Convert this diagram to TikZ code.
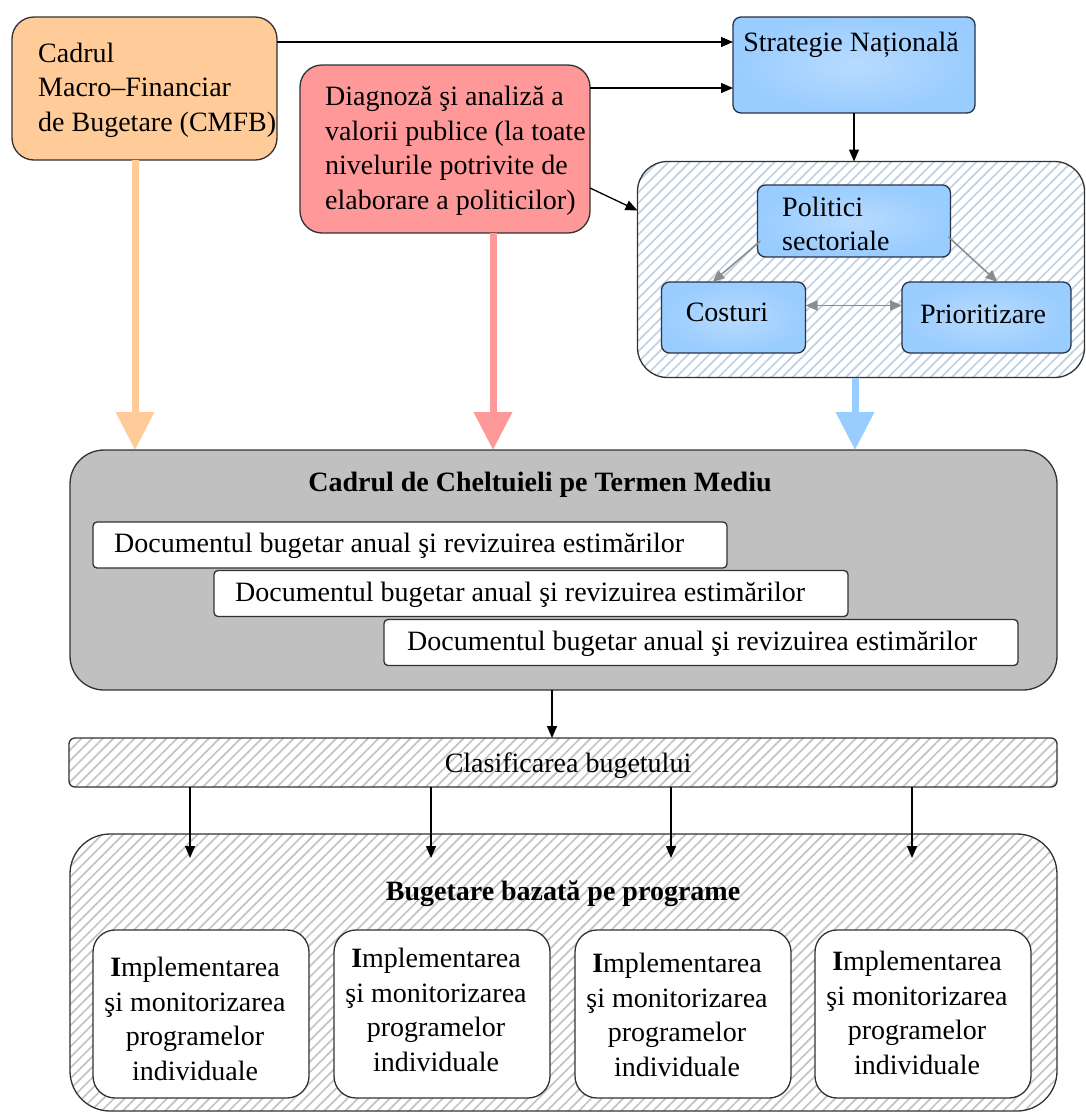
\documentclass[tikz,border=0pt]{standalone}
\usepackage{fontspec}
\setmainfont{Liberation Serif}
\usetikzlibrary{arrows.meta,patterns.meta}
\definecolor{cOrange}{RGB}{255,204,153}
\definecolor{cRed}{RGB}{255,153,153}
\definecolor{cBlue}{RGB}{153,204,255}
\definecolor{cGrey}{RGB}{192,192,192}
\definecolor{cLine}{RGB}{50,50,50}
\definecolor{cBlueLine}{RGB}{40,50,70}
\definecolor{cHatch}{RGB}{196,196,196}
\definecolor{cHatchB}{RGB}{190,210,226}
\definecolor{cArrowGrey}{RGB}{140,140,140}
\begin{document}
\begin{tikzpicture}[x=1pt,y=-1pt,
  txt/.style={font=\fontsize{28}{34.5}\selectfont, inner sep=0pt},
  boldtxt/.style={font=\fontsize{28}{34.5}\selectfont\bfseries, inner sep=0pt},
  box/.style={draw=cLine, line width=1.3pt, rounded corners=#1, inner sep=0pt, outer sep=0pt},
  box/.default=18pt,
  hatch/.style={pattern={Lines[angle=45,distance=7.5pt,line width=1.7pt]}, pattern color=#1},
  thin/.style={draw=black, line width=1.3pt, -{Triangle[width=10pt,length=12pt]}},
  greyarr/.style={draw=cArrowGrey, line width=1.5pt, -{Triangle[width=10pt,length=12pt]}},
  greyarr2/.style={draw=cArrowGrey, line width=1.5pt, {Triangle[width=10pt,length=12pt]}-{Triangle[width=10pt,length=12pt]}},
  thick/.style={draw=#1, line width=7pt, -{Triangle[width=37pt,length=38pt]}},
  bluebox/.style={box=8pt, draw=cBlueLine, shading=radial, inner color=cBlue!70!white, outer color=cBlue},
]
\fill[white] (0,0) rectangle (1086,1117);
\useasboundingbox (0,0) rectangle (1086,1117);

% top-left boxes
\node[box=22pt, fill=cOrange, minimum width=265pt, minimum height=143pt] (orange) at (144.5,88.5) {};
\node[txt, anchor=west, align=left] (orangeT) at (38,90) {Cadrul\\Macro–Financiar\\de Bugetare (CMFB)};

\node[box=22pt, fill=cRed, minimum width=290pt, minimum height=168pt] (red) at (445,149) {};
\node[txt, anchor=west, align=left] (redT) at (325,151) {Diagnoză şi analiză a\\valorii publice (la toate\\nivelurile potrivite de\\elaborare a politicilor)};

% strategy
\node[bluebox, minimum width=242pt, minimum height=96pt] (strat) at (854,65) {};
\node[txt] (stratT) at (851,45) {Strategie Națională};

% hatched container
\node[box=30pt, hatch=cHatchB, minimum width=447pt, minimum height=216pt] (cont) at (861,269.5) {};
\node[bluebox, minimum width=193pt, minimum height=72pt] (pol) at (854,221) {};
\node[txt, anchor=west, align=left] (polT) at (782,224) {Politici\\sectoriale};
\node[bluebox, minimum width=144pt, minimum height=71pt] (cost) at (733.5,317.5) {};
\node[txt] (costT) at (727,312) {Costuri};
\node[bluebox, minimum width=169pt, minimum height=71pt] (prio) at (986.5,317.5) {};
\node[txt] (prioT) at (983,314) {Prioritizare};

% arrows top
\coordinate (o1) at ([yshift=46.5pt]orange.east);
\draw[thin] (o1) -- (o1 -| strat.west);
\coordinate (r1) at ([yshift=61pt]red.east);
\draw[thin] (r1) -- (r1 -| strat.west);
\coordinate (r2) at ([yshift=-39pt]red.east);
\coordinate (c2) at ([yshift=59pt]cont.west);
\draw[thin] (r2) -- (c2);
\coordinate (s1) at (strat.south);
\draw[thin] (s1) -- (s1 |- cont.north);

\coordinate (p1) at ([shift={(3pt,-20pt)}]pol.west);
\coordinate (p2) at ([xshift=-21pt]cost.north);
\draw[greyarr] (p1) -- (p2);
\coordinate (p3) at ([shift={(-2pt,-16pt)}]pol.east);
\coordinate (p4) at ([xshift=11pt]prio.north);
\draw[greyarr] (p3) -- (p4);
\coordinate (cE) at ([yshift=12pt]cost.east);
\draw[greyarr2] (cE) -- (cE -| prio.west);

% CCTM box
\node[box=34pt, fill=cGrey, minimum width=987pt, minimum height=240pt] (cctm) at (563.5,570) {};
\node[boldtxt] (cctmT) at (540,485) {Cadrul de Cheltuieli pe Termen Mediu};
\node[box=4pt, fill=white, minimum width=634pt, minimum height=46pt] (doc1) at (410,545) {};
\node[txt, anchor=west] (doc1T) at (114,546) {Documentul bugetar anual şi revizuirea estimărilor};
\node[box=4pt, fill=white, minimum width=634pt, minimum height=46pt] (doc2) at (531,593.5) {};
\node[txt, anchor=west] (doc2T) at (235,594.5) {Documentul bugetar anual şi revizuirea estimărilor};
\node[box=4pt, fill=white, minimum width=634pt, minimum height=46pt] (doc3) at (701,642.5) {};
\node[txt, anchor=west] (doc3T) at (407,643.5) {Documentul bugetar anual şi revizuirea estimărilor};

% thick arrows
\coordinate (ta) at ([xshift=-9.5pt]orange.south);
\draw[thick=cOrange] (ta) -- (ta |- cctm.north);
\coordinate (tb) at ([xshift=48pt]red.south);
\draw[thick=cRed] (tb) -- (tb |- cctm.north);
\coordinate (tc) at ([xshift=-6pt]cont.south);
\draw[thick=cBlue] (tc) -- (tc |- cctm.north);

% classification
\node[box=6pt, hatch=cHatch, minimum width=988pt, minimum height=49pt] (clas) at (563,762.5) {};
\node[txt] (clasT) at (568,766) {Clasificarea bugetului};
\coordinate (cc) at ([xshift=-11.5pt]cctm.south);
\draw[thin] (cc) -- (cc |- clas.north);

% program budgeting
\node[box=40pt, hatch=cHatch, minimum width=987pt, minimum height=277pt] (pbb) at (563.5,972.5) {};
\node[boldtxt] (pbbT) at (563,894) {Bugetare bazată pe programe};

\foreach \i/\cx/\ty/\ax in {1/201/1019/190, 2/442/1010/431, 3/683/1015/671, 4/923/1013/912}{
  \node[box=22pt, fill=white, minimum width=216pt, minimum height=168pt] (impl\i) at (\cx,1014) {};
  \node[txt, align=center] (impl\i T) at (\cx-6,\ty) {\textbf{I}mplementarea\\şi monitorizarea\\programelor\\individuale};
  \coordinate (a\i) at (\ax,0);
  \draw[thin] (a\i |- clas.south) -- (\ax,858);
}
\end{tikzpicture}
\end{document}
